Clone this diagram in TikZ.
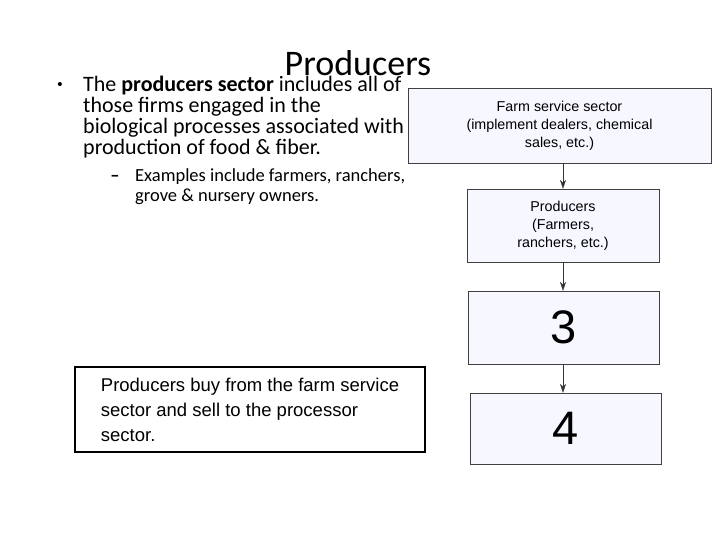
\documentclass[tikz,border=0pt]{standalone}
\usepackage{fontspec}
\setmainfont{Carlito}
\newfontfamily\arialfont{Liberation Sans}
\usetikzlibrary{arrows.meta}

\tikzstyle{sector}=[draw=black!75, fill=blue!3!white, inner sep=0pt, align=center, font=\arialfont\fontsize{14.3}{18}\selectfont]
\tikzstyle{bignum}=[sector, font=\arialfont\fontsize{47}{50}\selectfont]
\tikzstyle{notebox}=[draw, line width=1.4pt, fill=white, minimum width=350, minimum height=85, inner xsep=12, align=left, font=\arialfont\fontsize{18.5}{25}\selectfont]
\tikzstyle{bullettext}=[inner sep=0pt, align=left, font=\fontsize{22}{21}\selectfont]
\tikzstyle{subtext}=[inner sep=0pt, align=left, font=\fontsize{18.5}{20}\selectfont]
\tikzstyle{flow}=[draw=black!80, -{Stealth[length=9pt,width=6pt]}]

\begin{document}
\begin{tikzpicture}[x=1pt,y=-1pt]
\useasboundingbox (0,0) rectangle (720,540);

\node [anchor=base, font=\fontsize{36}{40}\selectfont] (title) at (358,76) {Producers};
\node [anchor=base, font=\arialfont\fontsize{15}{21}\selectfont] (dot) at (60,90) {\textbullet};
\node [bullettext, anchor=base west] (main) at (83,155)
  {The \textbf{producers sector} includes all of\\
   those firms engaged in the\\
   biological processes associated with\\
   production of food \& fiber.};
\node [anchor=base, font=\fontsize{18.5}{20}\selectfont\bfseries] (dash) at (115,182) {--};
\node [subtext, anchor=base west] (sub) at (135,202)
  {Examples include farmers, ranchers,\\
   grove \& nursery owners.};

\node [sector, minimum width=303, minimum height=75] (farm) at (559.5,125.5)
  {Farm service sector\\(implement dealers, chemical\\sales, etc.)};
\node [sector, minimum width=192, minimum height=73] (prod) at (563,225.5)
  {Producers\\(Farmers,\\ranchers, etc.)};
\node [bignum, minimum width=191, minimum height=73] (three) at (563.5,327.5) {3};
\node [bignum, minimum width=191, minimum height=71] (four) at (565.5,428.5) {4};
\draw [flow] (prod.north |- farm.south) -- (prod.north);
\draw [flow] (prod.south) -- (prod.south |- three.north);
\draw [flow] (prod.south |- three.south) -- (prod.south |- four.north);

\node [notebox] (note) at (250,409.5)
  {Producers buy from the farm service\\sector and sell to the processor\\sector.};
\end{tikzpicture}
\end{document}
